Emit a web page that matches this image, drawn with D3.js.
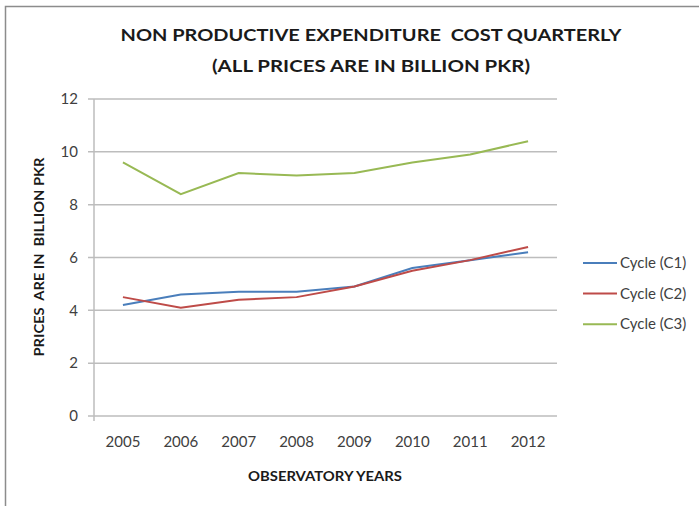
<!DOCTYPE html>
<html>
<head>
<meta charset="utf-8">
<script src="https://cdn.jsdelivr.net/npm/d3@7"></script>
<style>
  body { margin: 0; background: #fff; }
  svg { font-family: Lato, "Open Sans", sans-serif; }
</style>
</head>
<body>
<svg id="chart" width="699" height="506"></svg>
<script>
// chart data
const years = ["2005", "2006", "2007", "2008", "2009", "2010", "2011", "2012"];
const c1 = [4.2, 4.6, 4.7, 4.7, 4.9, 5.6, 5.9, 6.2];
const c2 = [4.5, 4.1, 4.4, 4.5, 4.9, 5.5, 5.9, 6.4];
const c3 = [9.6, 8.4, 9.2, 9.1, 9.2, 9.6, 9.9, 10.4];
const seriesNames = ["Cycle (C1)", "Cycle (C2)", "Cycle (C3)"];
const yTicks = [0, 2, 4, 6, 8, 10, 12];

const colors = ["#4a7ebb", "#be4b48", "#98b954"];
const series = [c1, c2, c3];

const svg = d3.select("#chart");

// outer frame (only top and left edges are visible)
svg.append("path")
    .attr("d", "M5.5,506 L5.5,6.5 L699,6.5")
    .attr("fill", "none")
    .attr("stroke", "#8c8c8c")
    .attr("stroke-width", 1.5);

let plotLeft = 94, plotRight = 557, plotTop = 99, plotBottom = 416;

let x = d3.scalePoint().domain(years).range([plotLeft, plotRight]).padding(0.5);
let y = d3.scaleLinear().domain([0, 12]).range([plotBottom, plotTop]);

// gridlines
svg.append("g")
  .selectAll("line")
  .data(yTicks)
  .enter()
  .append("line")
    .attr("x1", plotLeft - 6)
    .attr("x2", plotRight)
    .attr("y1", d => y(d))
    .attr("y2", d => y(d))
    .attr("stroke", "#bdbdbd")
    .attr("stroke-width", 1.5);

// y axis line
svg.append("line")
    .attr("x1", plotLeft).attr("x2", plotLeft)
    .attr("y1", plotTop).attr("y2", plotBottom + 5)
    .attr("stroke", "#bdbdbd")
    .attr("stroke-width", 1.5);

// y tick labels
svg.append("g")
  .selectAll("text")
  .data(yTicks)
  .enter()
  .append("text")
    .attr("x", 78)
    .attr("y", d => y(d))
    .attr("dy", "0.35em")
    .attr("text-anchor", "end")
    .attr("font-size", 15)
    .attr("fill", "#404040")
    .text(d => d);

// x tick labels
svg.append("g")
  .selectAll("text")
  .data(years)
  .enter()
  .append("text")
    .attr("x", d => x(d))
    .attr("y", 442)
    .attr("dy", "0.35em")
    .attr("text-anchor", "middle")
    .attr("font-size", 15)
    .attr("fill", "#404040")
    .text(d => d);

// lines
let line = d3.line()
    .x((d, i) => x(years[i]))
    .y(d => y(d));

series.forEach((s, i) => {
  svg.append("path")
      .datum(s)
      .attr("d", line)
      .attr("fill", "none")
      .attr("stroke", colors[i])
      .attr("stroke-width", 2);
});

// legend
let legend = svg.append("g")
  .selectAll("g")
  .data(seriesNames)
  .enter()
  .append("g")
    .attr("transform", (d, i) => "translate(583," + (263 + i * 30.6) + ")");

legend.append("line")
    .attr("x1", 0).attr("x2", 34)
    .attr("stroke", (d, i) => colors[i])
    .attr("stroke-width", 2);

legend.append("text")
    .attr("x", 37)
    .attr("dy", "0.35em")
    .attr("font-size", 15)
    .attr("fill", "#404040")
    .text(d => d);

// titles
svg.append("text")
    .attr("x", 371).attr("y", 41)
    .attr("text-anchor", "middle")
    .attr("font-size", 17)
    .attr("font-weight", "bold")
    .attr("fill", "#1a1a1a")
    .attr("xml:space", "preserve")
    .attr("textLength", 501)
    .attr("lengthAdjust", "spacingAndGlyphs")
    .text("NON PRODUCTIVE EXPENDITURE  COST QUARTERLY");

svg.append("text")
    .attr("x", 371).attr("y", 72)
    .attr("text-anchor", "middle")
    .attr("font-size", 17)
    .attr("font-weight", "bold")
    .attr("fill", "#1a1a1a")
    .attr("textLength", 318)
    .attr("lengthAdjust", "spacingAndGlyphs")
    .text("(ALL PRICES ARE IN BILLION PKR)");

svg.append("text")
    .attr("transform", "translate(44,257) rotate(-90)")
    .attr("text-anchor", "middle")
    .attr("font-size", 14)
    .attr("font-weight", "bold")
    .attr("fill", "#1a1a1a")
    .attr("xml:space", "preserve")
    .attr("textLength", 199)
    .attr("lengthAdjust", "spacingAndGlyphs")
    .text("PRICES  ARE IN  BILLION PKR");

svg.append("text")
    .attr("x", 325).attr("y", 481)
    .attr("text-anchor", "middle")
    .attr("font-size", 14)
    .attr("font-weight", "bold")
    .attr("fill", "#1a1a1a")
    .attr("textLength", 154)
    .attr("lengthAdjust", "spacingAndGlyphs")
    .text("OBSERVATORY YEARS");
</script>
</body>
</html>
